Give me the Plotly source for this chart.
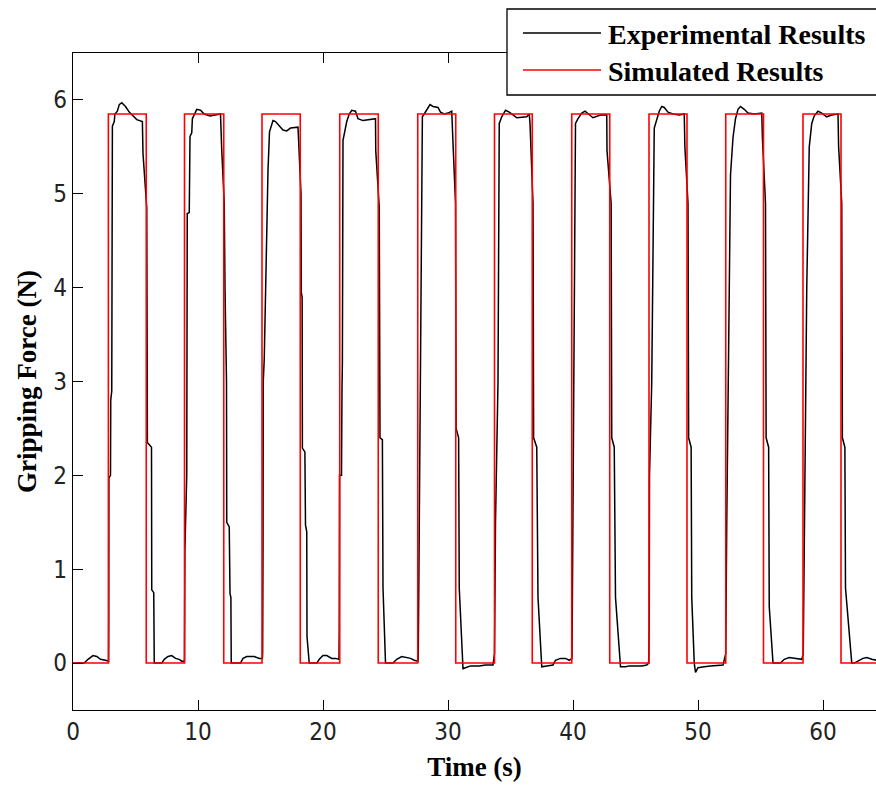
import plotly.graph_objects as go

# ---------------- data ----------------
# Simulated (square wave) gripping force
sim_t = [0.0, 2.83, 2.83, 5.86, 5.86, 8.92, 8.92, 12.06, 12.06, 15.12, 15.12, 18.18, 18.18,
         21.34, 21.34, 24.42, 24.42, 27.58, 27.58, 30.62, 30.62, 33.72, 33.72, 36.74, 36.74,
         39.9, 39.9, 42.94, 42.94, 46.08, 46.08, 49.12, 49.12, 52.22, 52.22, 55.24, 55.24,
         58.4, 58.4, 61.44, 61.44, 64.5]
sim_y = [0.0, 0.0, 5.85, 5.85, 0.0, 0.0, 5.85, 5.85, 0.0, 0.0, 5.85, 5.85, 0.0,
         0.0, 5.85, 5.85, 0.0, 0.0, 5.85, 5.85, 0.0, 0.0, 5.85, 5.85, 0.0,
         0.0, 5.85, 5.85, 0.0, 0.0, 5.85, 5.85, 0.0, 0.0, 5.85, 5.85, 0.0,
         0.0, 5.85, 5.85, 0.0, 0.0]

# Experimental gripping force
exp_t = [
    0.0, 0.9, 1.2, 1.6, 1.9, 2.2, 2.6, 2.85,
    2.86, 2.87, 3.0, 3.02, 3.1, 3.15, 3.3, 3.35, 3.55, 3.7, 3.9, 4.2, 4.5, 4.8, 5.1, 5.55, 5.6,
    5.9, 5.95, 6.28, 6.3, 6.46, 6.5,
    7.1, 7.3, 7.6, 7.9, 8.2, 8.5, 8.7, 8.9,
    8.92, 8.95, 9.1, 9.14, 9.3, 9.36, 9.5, 9.55, 9.75, 9.9, 10.2, 10.5, 10.96, 11.6, 11.8, 11.9,
    12.1, 12.16, 12.28, 12.3, 12.5, 12.56, 12.63, 12.66,
    13.4, 13.6, 13.9, 14.5, 14.9, 15.15,
    15.17, 15.2, 15.22, 15.3, 15.45, 15.6, 15.72, 15.85, 16.0, 16.2, 16.5, 16.8, 17.1, 17.4, 18.0,
    18.24, 18.26, 18.33, 18.35, 18.55, 18.6, 18.7, 18.72, 18.85, 18.9,
    19.5, 19.7, 20.0, 20.3, 20.7, 21.0, 21.28,
    21.3, 21.32, 21.48, 21.52, 21.55, 21.6, 21.9, 22.1, 22.3, 22.6, 22.8, 23.2, 24.0, 24.2, 24.22,
    24.5, 24.56, 24.75, 24.8, 24.95, 25.0,
    25.6, 25.9, 26.3, 26.7, 27.0, 27.3, 27.6,
    27.62, 27.7, 27.78, 27.9, 27.95, 28.1, 28.3, 28.56, 28.8, 29.2, 29.4, 29.7, 30.0, 30.3, 30.4,
    30.6, 30.65, 30.85, 30.9, 31.1, 31.2,
    31.4, 31.8, 32.5, 33.0, 33.6,
    33.72, 33.8, 34.0, 34.1, 34.3, 34.6, 34.9, 35.2, 35.5, 36.3, 36.5, 36.56,
    36.8, 36.85, 37.1, 37.2, 37.45, 37.5,
    37.9, 38.4, 38.6, 39.0, 39.4, 39.7,
    39.92, 40.0, 40.16, 40.2, 40.4, 40.7, 40.96, 41.3, 41.6, 42.2, 42.7, 42.72,
    43.05, 43.1, 43.3, 43.4, 43.7, 43.8,
    44.2, 44.5, 45.5, 45.9,
    46.05, 46.1, 46.12, 46.3, 46.5, 46.7, 46.9, 47.1, 47.3, 47.6, 48.0, 48.5, 48.9, 48.95,
    49.2, 49.25, 49.45, 49.5, 49.7, 49.8,
    50.0, 50.5, 51.0, 52.0,
    52.22, 52.3, 52.45, 52.6, 52.8, 53.0, 53.2, 53.4, 53.7, 54.0, 54.5, 55.1, 55.15,
    55.4, 55.45, 55.65, 55.7, 55.9, 56.0,
    56.6, 56.9, 57.3, 57.7, 58.0, 58.3,
    58.42, 58.5, 58.7, 58.9, 59.1, 59.3, 59.6, 59.9, 60.3, 60.7, 61.2, 61.25,
    61.5, 61.55, 61.75, 61.8, 62.2, 62.3,
    62.5, 62.8, 63.2, 63.5, 63.9, 64.3,
]
exp_y = [
    0.0, 0.0, 0.04, 0.08, 0.07, 0.04, 0.03, 0.02,
    0.46, 1.97, 2.0, 2.8, 2.9, 5.72, 5.77, 5.85, 5.88, 5.95, 5.97, 5.93, 5.87, 5.83, 5.79, 5.77, 5.43,
    4.85, 2.35, 2.3, 0.78, 0.75, 0.0,
    0.0, 0.04, 0.07, 0.08, 0.05, 0.04, 0.02, 0.02,
    0.02, 1.2, 2.0, 4.79, 4.8, 5.61, 5.65, 5.8, 5.87, 5.9, 5.89, 5.85, 5.83, 5.84, 5.85, 5.46,
    4.9, 4.0, 3.0, 1.5, 1.45, 0.74, 0.7, 0.0,
    0.0, 0.05, 0.07, 0.07, 0.05, 0.05,
    0.1, 1.2, 3.0, 3.24, 4.43, 5.25, 5.66, 5.72, 5.78, 5.77, 5.72, 5.68, 5.67, 5.7, 5.71,
    5.0, 3.95, 3.9, 2.29, 2.25, 1.47, 1.4, 0.28, 0.12, 0.0,
    0.0, 0.04, 0.08, 0.08, 0.05, 0.05, 0.04,
    0.38, 2.0, 2.0, 2.92, 3.2, 5.57, 5.77, 5.85, 5.89, 5.88, 5.8, 5.78, 5.79, 5.8, 5.46,
    4.86, 2.4, 2.38, 0.8, 0.1, 0.0,
    0.0, 0.04, 0.07, 0.06, 0.05, 0.03, 0.02,
    0.05, 1.5, 2.5, 5.7, 5.82, 5.85, 5.9, 5.95, 5.93, 5.92, 5.87, 5.85, 5.86, 5.88, 5.54,
    4.9, 2.5, 2.4, 0.8, 0.1, -0.06,
    -0.05, -0.03, -0.03, -0.02, -0.02,
    0.1, 1.5, 3.0, 5.75, 5.82, 5.89, 5.87, 5.84, 5.81, 5.82, 5.85, 5.75,
    4.9, 2.4, 2.3, 0.7, 0.05, -0.04,
    -0.03, -0.02, 0.03, 0.05, 0.05, 0.03,
    0.05, 2.0, 5.0, 5.75, 5.8, 5.86, 5.88, 5.84, 5.81, 5.84, 5.84, 5.46,
    4.9, 2.4, 2.3, 0.7, 0.05, -0.04,
    -0.04, -0.03, -0.03, -0.02,
    0.0, 0.4, 2.0, 3.0, 5.7, 5.8, 5.88, 5.93, 5.92, 5.87, 5.85, 5.84, 5.85, 5.5,
    4.9, 2.4, 2.3, 0.7, 0.0, -0.1,
    -0.05, -0.04, -0.03, -0.02,
    0.1, 1.5, 3.5, 5.2, 5.6, 5.8, 5.9, 5.93, 5.9, 5.86, 5.85, 5.86, 5.6,
    4.9, 2.4, 2.3, 0.6, 0.1, 0.0,
    0.0, 0.04, 0.06, 0.05, 0.04, 0.04,
    0.1, 1.5, 4.0, 5.5, 5.75, 5.83, 5.88, 5.86, 5.82, 5.84, 5.85, 5.5,
    4.9, 2.4, 2.3, 0.8, 0.15, 0.0,
    0.0, 0.02, 0.05, 0.06, 0.04, 0.03,
]

series_names = ["Experimental Results", "Simulated Results"]
series_colors = ["#000000", "#ff0000"]
x_ticks = [0, 10, 20, 30, 40, 50, 60]
y_ticks = [0, 1, 2, 3, 4, 5, 6]

# ---------------- figure ----------------
W, H = 876, 787
ML, MR, MT, MB = 73, 0, 53, 77
PW, PH = W - ML - MR, H - MT - MB

fig = go.Figure()
fig.add_trace(go.Scatter(x=exp_t, y=exp_y, mode="lines", name=series_names[0],
                         line=dict(color=series_colors[0], width=1.5), showlegend=False))
fig.add_trace(go.Scatter(x=sim_t, y=sim_y, mode="lines", name=series_names[1],
                         line=dict(color=series_colors[1], width=1.6, shape="linear"),
                         showlegend=False))

tick_font = dict(family="Liberation Sans Narrow, DejaVu Sans Condensed, Liberation Sans",
                 size=24, color="#222")
title_font = dict(family="Liberation Serif, Times New Roman, serif", size=27, color="#000")

fig.update_xaxes(range=[0, PW / 12.5], tickvals=x_ticks, ticks="inside", ticklen=10,
                 tickwidth=1.2, tickcolor="black", showline=True, linecolor="black",
                 linewidth=1.3, mirror="ticks", showgrid=False, zeroline=False,
                 tickfont=tick_font,
                 title=dict(text="<b>Time (s)</b>", font=title_font, standoff=12))
fig.update_yaxes(range=[-0.5, 6.5], tickvals=y_ticks, ticks="inside", ticklen=10,
                 tickwidth=1.2, tickcolor="black", showline=True, linecolor="black",
                 linewidth=1.3, mirror=False, showgrid=False, zeroline=False,
                 tickfont=tick_font,
                 title=dict(text="<b>Gripping Force (N)</b>", font=title_font, standoff=8))


def px_x(p):
    return (p - ML) / PW


def px_y(p):
    return (H - MB - p) / PH


shapes = [dict(type="rect", xref="paper", yref="paper", x0=px_x(507), x1=px_x(900),
               y0=px_y(95), y1=px_y(9), line=dict(color="black", width=1.3),
               fillcolor="white", layer="above")]
annotations = []
legend_rows = [33, 70]
for name, color, yy in zip(series_names, series_colors, legend_rows):
    shapes.append(dict(type="line", xref="paper", yref="paper", x0=px_x(523), x1=px_x(601),
                       y0=px_y(yy), y1=px_y(yy), line=dict(color=color, width=1.6),
                       layer="above"))
    annotations.append(dict(xref="paper", yref="paper", x=px_x(606), y=px_y(yy + 1),
                            xanchor="left", yanchor="middle", showarrow=False,
                            text="<b>%s</b>" % name,
                            font=dict(family="Liberation Serif, Times New Roman, serif",
                                      size=28, color="#000")))

fig.update_layout(width=W, height=H, margin=dict(l=ML, r=MR, t=MT, b=MB, autoexpand=False),
                  paper_bgcolor="white", plot_bgcolor="white", shapes=shapes,
                  annotations=annotations, showlegend=False)

fig.write_html("out.html", config={"displayModeBar": False},
               post_script="document.body.style.margin='0px';"
                           "document.body.style.overflow='hidden';")
